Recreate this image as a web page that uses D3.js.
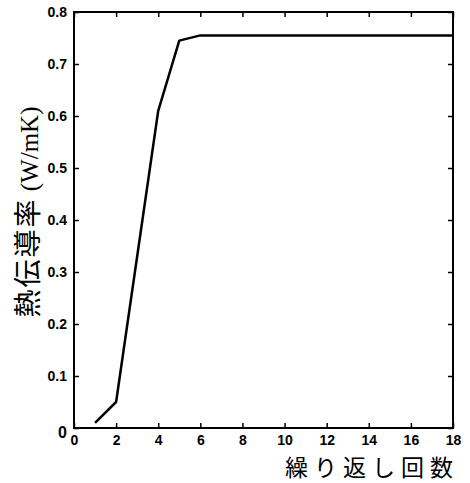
<!doctype html>
<html>
<head>
  <meta charset="utf-8">
  <title>熱伝導率</title>
  <style>
  body{
    margin: 0;
    background: #fff;
  }
  .title-jp{
    font-family: "Noto Sans CJK JP", sans-serif;
    fill: #000;
  }
  </style>
</head>
<body>
  <svg></svg>

  <script src="https://d3js.org/d3.v7.min.js"></script>
  <script>
  var width = 470;
  var height = 483;
  var margin = { top: 12, right: 17, bottom: 55, left: 74 };

  // iteration count vs thermal conductivity
  var iterations = [1, 2, 4, 5, 6, 7, 8, 9, 10, 11, 12, 13, 14, 15, 16, 17, 18];
  var conductivity = [0.01, 0.05, 0.61, 0.745, 0.755, 0.755, 0.755, 0.755, 0.755, 0.755, 0.755, 0.755, 0.755, 0.755, 0.755, 0.755, 0.755];
  var xTicks = [0, 2, 4, 6, 8, 10, 12, 14, 16, 18];
  var yTicks = [0, 0.1, 0.2, 0.3, 0.4, 0.5, 0.6, 0.7, 0.8];

  var svg = d3.select('svg')
    .attr('width', width)
    .attr('height', height);

  var x = d3.scaleLinear().domain([0, 18]).range([margin.left, width - margin.right]);
  var y = d3.scaleLinear().domain([0, 0.8]).range([height - margin.bottom, margin.top]);

  // inward ticks on all four sides
  var xAxis = svg.append('g')
    .attr('transform', 'translate(0,' + y(0) + ')')
    .call(d3.axisBottom(x).tickValues(xTicks).tickSizeInner(-5).tickSizeOuter(0).tickPadding(7)
      .tickFormat(d3.format('d')));
  svg.append('g')
    .attr('transform', 'translate(0,' + y(0.8) + ')')
    .call(d3.axisTop(x).tickValues(xTicks).tickSizeInner(-5).tickSizeOuter(0).tickFormat(''));
  var yAxis = svg.append('g')
    .attr('transform', 'translate(' + x(0) + ',0)')
    .call(d3.axisLeft(y).tickValues(yTicks).tickSizeInner(-5).tickSizeOuter(0).tickPadding(7)
      .tickFormat(function(d){ return d === 0 ? '0' : d3.format('.1f')(d); }));
  svg.append('g')
    .attr('transform', 'translate(' + x(18) + ',0)')
    .call(d3.axisRight(y).tickValues(yTicks).tickSizeInner(-5).tickSizeOuter(0).tickFormat(''));

  svg.selectAll('.domain').remove();
  svg.selectAll('.tick line').attr('stroke', '#000').attr('stroke-width', 1.5);

  [xAxis, yAxis].forEach(function(g){
    g.selectAll('.tick text')
      .style('font-family', '"Liberation Sans", Arial, sans-serif')
      .style('font-weight', 'bold')
      .style('font-size', '14px')
      .attr('fill', '#000');
  });

  // the "0" on the y axis sits a bit larger and lower
  yAxis.selectAll('.tick text').filter(function(d){ return d === 0; })
    .style('font-size', '16px')
    .attr('dy', '0.6em');

  svg.append('rect')
    .attr('x', x(0))
    .attr('y', y(0.8))
    .attr('width', x(18) - x(0))
    .attr('height', y(0) - y(0.8))
    .attr('fill', 'none')
    .attr('stroke', '#000')
    .attr('stroke-width', 2);

  var line = d3.line()
    .x(function(d, i){ return x(iterations[i]); })
    .y(function(d){ return y(d); });

  svg.append('path')
    .datum(conductivity)
    .attr('d', line)
    .attr('fill', 'none')
    .attr('stroke', '#000')
    .attr('stroke-width', 2.5)
    .attr('stroke-linejoin', 'round');

  // axis titles
  svg.append('text')
    .attr('class', 'title-jp')
    .attr('x', 459)
    .attr('y', 476)
    .attr('text-anchor', 'end')
    .style('font-size', '23px')
    .style('letter-spacing', '6px')
    .text('繰り返し回数');

  var yTitle = svg.append('text')
    .attr('class', 'title-jp')
    .attr('transform', 'translate(38,212) rotate(-90)')
    .attr('text-anchor', 'middle');
  yTitle.append('tspan')
    .style('font-size', '28px')
    .style('letter-spacing', '2px')
    .text('熱伝導率');
  yTitle.append('tspan')
    .style('font-family', '"Liberation Serif", "Times New Roman", serif')
    .style('font-size', '25px')
    .text(' (W/mK)');
  </script>
</body>
</html>
